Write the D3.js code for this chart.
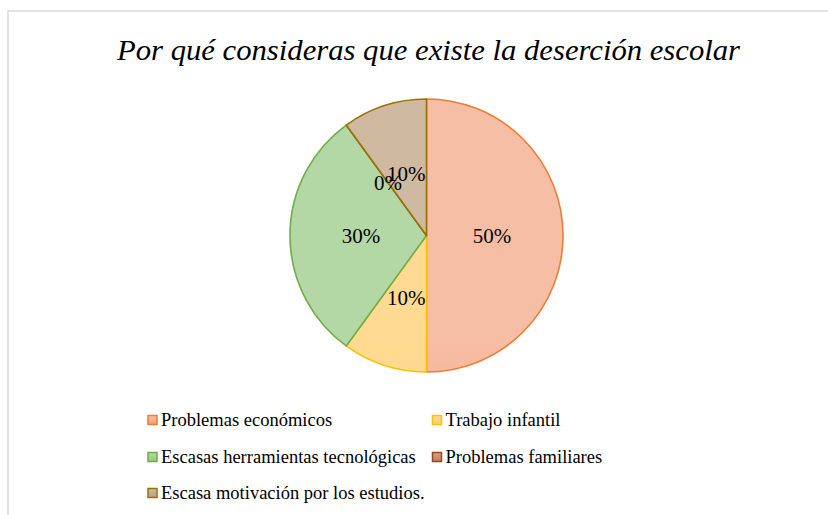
<!DOCTYPE html>
<html><head><meta charset="utf-8">
<script src="https://cdn.jsdelivr.net/npm/d3@7"></script>
<style>html,body{margin:0;padding:0;background:#fff;}</style>
</head><body>
<svg id="chart" width="828" height="515"></svg>
<script>
const title = "Por qué consideras que existe la deserción escolar";
const categories = ["Problemas económicos","Trabajo infantil","Escasas herramientas tecnológicas","Problemas familiares","Escasa motivación por los estudios."];
const values = [50, 10, 30, 0, 10];
const labels = ["50%","10%","30%","0%","10%"];
const strokeColors = ["#ED7D31","#FFC000","#70AD47","#9E480E","#997300"];
const topColors = ["#F7BEA6","#FFDA92","#B4D8A5","#D5A48E","#CFB9A0"];
const bottomColors = ["#F3A07A","#FFD07A","#9ACA83","#C27E60","#BDA07B"];

const svg = d3.select("#chart");
const W = 828, H = 515;
const FONT = "Liberation Serif";
svg.append("rect").attr("x",0).attr("y",0).attr("width",W).attr("height",H).attr("fill","#fff");
svg.append("rect").attr("x",8).attr("y",11).attr("width",W+10).attr("height",H+10)
  .attr("fill","#fff").attr("stroke","#D9D9D9").attr("stroke-width",1.5);

svg.append("text").attr("x",428.5).attr("y",60).attr("text-anchor","middle")
  .attr("font-family",FONT).attr("font-style","italic")
  .attr("font-size",30).attr("fill","#000")
  .attr("textLength",623).attr("lengthAdjust","spacingAndGlyphs")
  .text(title);

const cx = 426.5, cy = 235.5, r = 136.5;
const defs = svg.append("defs");
categories.forEach((c,i)=>{
  const g = defs.append("linearGradient").attr("id","g"+i)
    .attr("gradientUnits","userSpaceOnUse").attr("x1",0).attr("y1",cy-r).attr("x2",0).attr("y2",cy+r);
  g.append("stop").attr("offset","0").attr("stop-color",topColors[i]);
  g.append("stop").attr("offset","1").attr("stop-color",bottomColors[i]);
  const lg = defs.append("linearGradient").attr("id","lg"+i).attr("x1",0).attr("y1",0).attr("x2",0).attr("y2",1);
  lg.append("stop").attr("offset","0").attr("stop-color",topColors[i]);
  lg.append("stop").attr("offset","1").attr("stop-color",bottomColors[i]);
});

const pie = d3.pie().sort(null).value(d=>d)(values);
const arc = d3.arc().innerRadius(0).outerRadius(r);
const labelArc = d3.arc().innerRadius(r*0.48).outerRadius(r*0.48);
const gp = svg.append("g").attr("transform",`translate(${cx},${cy})`);
gp.selectAll("path.slice").data(pie).join("path").attr("class","slice")
  .attr("d",arc)
  .attr("fill",(d,i)=>`url(#g${i})`)
  .attr("stroke",(d,i)=>strokeColors[i]).attr("stroke-width",1.6)
  .attr("stroke-linejoin","round");

gp.selectAll("text.lbl").data(pie).join("text").attr("class","lbl")
  .attr("transform",d=>{const c=labelArc.centroid(d);return `translate(${c[0]},${c[1]})`;})
  .attr("text-anchor","middle").attr("dy","0.35em")
  .attr("font-family",FONT).attr("font-size",21).attr("fill","#000")
  .text((d,i)=>labels[i]);

const colX = [147.5, 432];
const rowY = [420, 457, 493];
const leg = svg.append("g");
categories.forEach((c,i)=>{
  const x = colX[i%2], y = rowY[Math.floor(i/2)];
  leg.append("rect").attr("x",x+0.5).attr("y",y-4.5).attr("width",9).attr("height",9)
    .attr("fill",`url(#lg${i})`).attr("stroke",strokeColors[i]).attr("stroke-width",1.5);
  leg.append("text").attr("x",x+13.5).attr("y",y).attr("dy","0.35em")
    .attr("font-family",FONT).attr("font-size",18.5).attr("fill","#000")
    .text(c);
});
</script>
</body></html>
